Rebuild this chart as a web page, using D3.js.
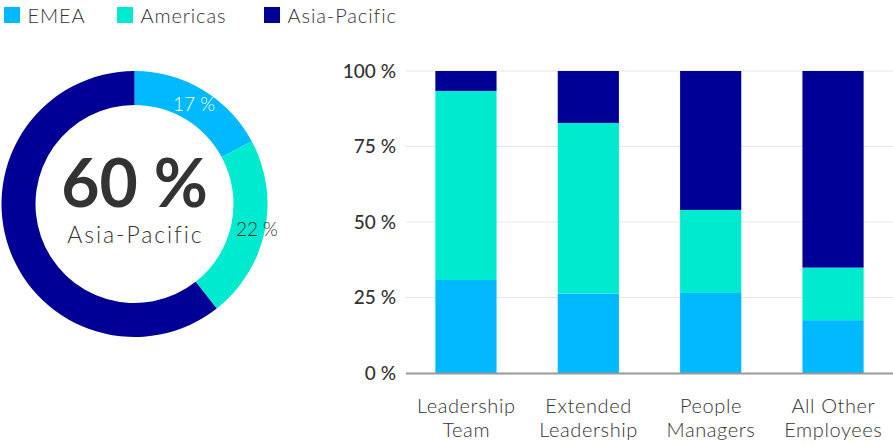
<!DOCTYPE html>
<html><head><meta charset="utf-8">
<script src="https://cdn.jsdelivr.net/npm/d3@7"></script>
<style>
html,body{margin:0;padding:0;background:#fff;}
svg{display:block;font-family:Lato, "Open Sans", sans-serif;}
.lt{font-weight:300;}
</style></head>
<body><svg id="c" width="893" height="445"></svg>
<script>
const regions = ["EMEA", "Americas", "Asia-Pacific"];
const colors = ["#00B9FF", "#00EAD0", "#000096"];
const donutValues = [17, 22, 60];
const donutLabels = ["17 %", "22 %", "60 %"];
const categories = [["Leadership", "Team"], ["Extended", "Leadership"], ["People", "Managers"], ["All Other", "Employees"]];
const emea = [30.8, 26.3, 26.5, 17.5];
const americas = [62.6, 56.5, 27.5, 17.4];
const asiaPacific = [6.6, 17.2, 46.0, 65.1];
const yTicks = [0, 25, 50, 75, 100];
const yTickLabels = ["0 %", "25 %", "50 %", "75 %", "100 %"];

const svg = d3.select("#c");
const textCol = "#333";

// Legend
const legendX = [4, 117, 264];
const lg = svg.append("g");
regions.forEach((r, i) => {
  lg.append("rect").attr("x", legendX[i]).attr("y", 7).attr("width", 16).attr("height", 16).attr("fill", colors[i]);
  lg.append("text").attr("class", "lt").attr("x", legendX[i] + 23.5).attr("y", 23).attr("font-size", 20).attr("letter-spacing", 0.9)
    .attr("fill", "#333").text(r);
});

// Donut
const cx = 134.5, cy = 204, rOuter = 133, rInner = 99;
const pie = d3.pie().sort(null).value(d => d);
const arcs = pie(donutValues);
const arc = d3.arc().innerRadius(rInner).outerRadius(rOuter);
const dg = svg.append("g").attr("transform", `translate(${cx},${cy})`);
dg.selectAll("path").data(arcs).join("path").attr("d", arc).attr("fill", (d, i) => colors[i]);
const labArc = d3.arc().innerRadius(rInner).outerRadius(rOuter + 14);
[0, 1].forEach(i => {
  const c = (i === 0 ? arc : labArc).centroid(arcs[i]);
  dg.append("text").attr("class", "lt").attr("x", c[0] + (i === 0 ? 0 : 2)).attr("y", c[1]).attr("dy", "0.35em")
    .attr("text-anchor", "middle").attr("font-size", 19)
    .attr("fill", i === 0 ? "#fff" : textCol).text(donutLabels[i]);
});
dg.append("text").attr("x", 0).attr("y", 2.5).attr("text-anchor", "middle")
  .attr("font-size", 66).attr("font-weight", 700).attr("fill", textCol).text(donutLabels[2]);
dg.append("text").attr("class", "lt").attr("x", 0.9).attr("y", 38.5).attr("text-anchor", "middle")
  .attr("font-size", 23).attr("letter-spacing", 1.9).attr("fill", "#333").text(regions[2]);

// Bar chart
const x = d3.scaleBand().domain(d3.range(categories.length)).range([406, 893]).paddingInner(0.5).paddingOuter(0.24);
const y = d3.scaleLinear().domain([0, 100]).range([373, 71]);
const bg = svg.append("g");
bg.selectAll("line.grid").data(yTicks.slice(1)).join("line").attr("class", "grid")
  .attr("x1", 406).attr("x2", 893).attr("y1", d => y(d)).attr("y2", d => y(d))
  .attr("stroke", "#e6e6e6").attr("stroke-width", 1);
const stackData = categories.map((c, i) => ({i, EMEA: emea[i], Americas: americas[i], "Asia-Pacific": asiaPacific[i]}));
const stack = d3.stack().keys(regions)(stackData);
stack.forEach((layer, k) => {
  bg.append("g").attr("fill", colors[k]).selectAll("rect").data(layer).join("rect")
    .attr("x", d => x(d.data.i)).attr("width", x.bandwidth())
    .attr("y", d => y(Math.min(100, d[1]))).attr("height", d => y(d[0]) - y(Math.min(100, d[1])));
});
bg.append("line").attr("x1", 406).attr("x2", 893).attr("y1", y(0) + 0.5).attr("y2", y(0) + 0.5)
  .attr("stroke", "#999").attr("stroke-width", 2);

// Y axis labels
const yAxis = d3.axisLeft(y).tickValues(yTicks).tickFormat((d, i) => yTickLabels[i]).tickSize(0).tickPadding(0);
const ya = bg.append("g").attr("transform", "translate(396,0)").call(yAxis);
ya.select(".domain").remove();
ya.selectAll("text").attr("font-size", 19).attr("font-family", "Lato, sans-serif").attr("font-weight", 500).attr("fill", textCol);

// X labels
categories.forEach((c, i) => {
  const cxl = x(i) + x.bandwidth() / 2 + 0.3;
  const t = bg.append("text").attr("class", "lt").attr("text-anchor", "middle").attr("font-size", 20).attr("letter-spacing", 0.6).attr("fill", "#333")
    .attr("x", cxl).attr("y", 413);
  c.forEach((line, j) => t.append("tspan").attr("x", cxl).attr("dy", j ? 24 : 0).text(line));
});
</script></body></html>
